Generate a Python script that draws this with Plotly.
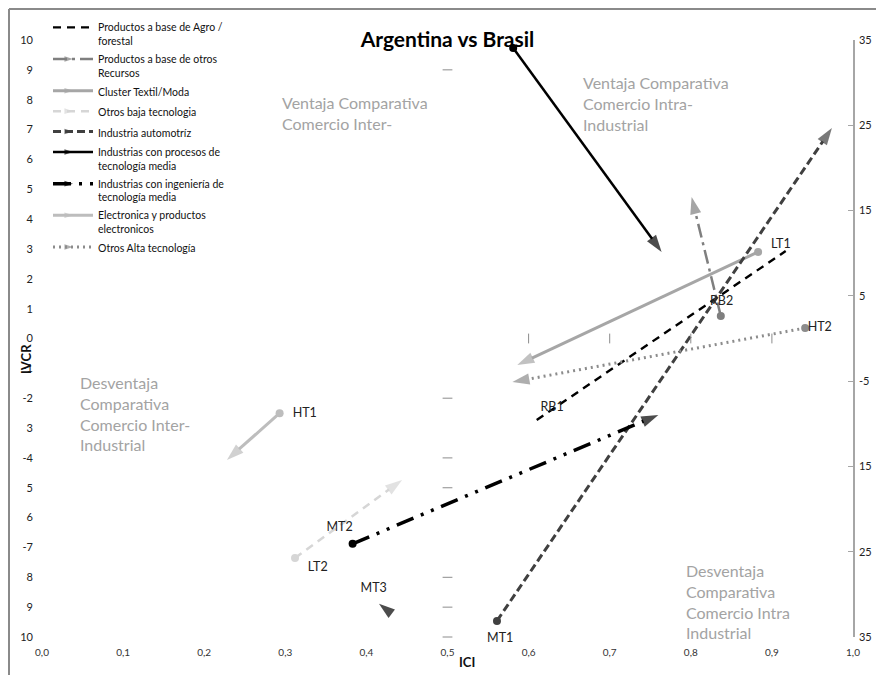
import plotly.graph_objects as go

# Sector arrows: start (ICI, IVCR) -> end (ICI, IVCR)
sectores = [
    "Productos a base de Agro /<br>forestal",
    "Productos a base de otros<br>Recursos",
    "Cluster Textil/Moda",
    "Otros baja tecnologia",
    "Industria automotríz",
    "Industrias con procesos de<br>tecnología media",
    "Industrias con ingeniería de<br>tecnología media",
    "Electronica y productos<br>electronicos",
    "Otros Alta tecnología",
]
ici_ini = [0.610, 0.837, 0.883, 0.312, 0.561, 0.581, 0.383, 0.293, 0.941]
ivcr_ini = [-2.73, 0.75, 2.90, -7.35, -9.46, 9.73, -6.88, -2.50, 0.35]
ici_fin = [0.917, 0.801, 0.586, 0.444, 0.974, 0.764, 0.760, 0.228, 0.580]
ivcr_fin = [2.93, 4.74, -0.89, -4.74, 7.05, 2.90, -2.56, -4.07, -1.46]

# isolated arrow head next to MT3
mt3_x = [0.435, 0.4155]
mt3_y = [-9.30, -8.89]

etiquetas = ["LT1", "RB2", "HT2", "RB1", "HT1", "MT2", "LT2", "MT3", "MT1"]
etiqueta_x = [0.911, 0.838, 0.959, 0.629, 0.324, 0.367, 0.340, 0.409, 0.565]
etiqueta_y = [3.13, 1.22, 0.35, -2.33, -2.53, -6.35, -7.69, -8.39, -9.85]
etiqueta_pos = ["middle center"] * 8 + ["bottom center"]

x_ticks = [i / 10 for i in range(11)]
x_ticktext = ["0,0", "0,1", "0,2", "0,3", "0,4", "0,5", "0,6", "0,7", "0,8", "0,9", "1,0"]
y_ticks = list(range(10, -11, -1))
y_ticktext = ["10", "9", "8", "7", "6", "5", "4", "3", "2", "1", "0",
              "-1", "-2", "3", "-4", "5", "6", "-7", "8", "9", "10"]
y2_ticks = [35, 25, 15, 5, -5, -15, -25, -35]
y2_ticktext = ["35", "25", "15", "5", "-5", "15", "25", "35"]

# tick marks of the (hidden) centre axes
eje_v_y = [9, -2, -4, -5, -8, -9, -10]
eje_h_x = [0.6, 0.7, 0.8, 0.9]

cuadrantes = [
    "Ventaja Comparativa<br>Comercio Inter-",
    "Ventaja Comparativa<br>Comercio Intra-<br>Industrial",
    "Desventaja<br>Comparativa<br>Comercio Inter-<br>Industrial",
    "Desventaja<br>Comparativa<br>Comercio Intra<br>Industrial",
]
cuadrante_x = [0.294, 0.665, 0.044, 0.791]
cuadrante_y = [8.30, 8.97, -1.08, -7.38]

colores = ["#000000", "#7f7f7f", "#a6a6a6", "#d6d6d6", "#404040",
           "#000000", "#000000", "#bdbdbd", "#8c8c8c"]
trazos = ["8px,6px", "14px,5px,3px,5px", "solid", "8px,6px", "8px,4px",
          "solid", "18px,8px,3px,8px,3px,8px", "solid", "2px,4px"]
anchos = [2.4, 2.5, 3, 2.5, 3, 2.5, 3.5, 3, 3]
flecha = [False, True, True, True, True, True, True, True, True]

FONT = "Lato, Open Sans, sans-serif"
W, H = 876, 667  # page body keeps an 8px margin

fig = go.Figure()

for i, nombre in enumerate(sectores):
    fig.add_scatter(
        x=[ici_ini[i], ici_fin[i]], y=[ivcr_ini[i], ivcr_fin[i]],
        mode="lines+markers" if flecha[i] else "lines", name=nombre,
        legendgroup=str(i), cliponaxis=False,
        line={"color": colores[i], "width": anchos[i], "dash": trazos[i]},
        marker={"symbol": "arrow", "size": [0, 18], "color": colores[i],
                "angleref": "previous", "line": {"width": 0}},
    )
    if flecha[i]:
        fig.add_scatter(
            x=[ici_ini[i]], y=[ivcr_ini[i]], mode="markers", legendgroup=str(i),
            showlegend=False, cliponaxis=False,
            marker={"symbol": "circle", "size": 8, "color": colores[i]},
        )

fig.add_scatter(
    x=mt3_x, y=mt3_y, mode="markers", showlegend=False,
    marker={"symbol": "arrow", "size": [0, 17], "color": "#000000",
            "angleref": "previous", "line": {"width": 0}},
)

fig.add_scatter(
    x=etiqueta_x, y=etiqueta_y, mode="text", text=etiquetas, textposition=etiqueta_pos,
    showlegend=False, cliponaxis=False,
    textfont={"family": FONT, "size": 12.5, "color": "#222222"},
)

fig.add_scatter(
    x=[0.5] * len(eje_v_y), y=eje_v_y, mode="markers", showlegend=False, cliponaxis=False,
    marker={"symbol": "line-ew", "size": 7, "line": {"color": "#8c8c8c", "width": 1}},
)
fig.add_scatter(
    x=eje_h_x, y=[0] * len(eje_h_x), yaxis="y2", mode="markers", showlegend=False,
    marker={"symbol": "line-ns", "size": 7, "line": {"color": "#8c8c8c", "width": 1}},
)

for texto, cx, cy in zip(cuadrantes, cuadrante_x, cuadrante_y):
    fig.add_annotation(
        x=cx, y=cy, text=texto, showarrow=False, xanchor="left", yanchor="top",
        align="left", font={"family": FONT, "size": 16, "color": "#a3a3a3"},
    )

fig.add_annotation(
    x=-0.019, y=-0.7, xref="paper", yref="y", text="<b>IVCR</b>", textangle=-90,
    xanchor="center", yanchor="middle",
    showarrow=False, font={"family": FONT, "size": 13, "color": "#111111"},
)
fig.add_annotation(
    x=0.524, y=-0.042, xref="paper", yref="paper", text="<b>ICI</b>", showarrow=False,
    xanchor="center", yanchor="middle",
    font={"family": FONT, "size": 13, "color": "#111111"},
)

# outer chart border (left and top)
fig.add_shape(type="line", xref="paper", yref="paper", x0=-0.0407, x1=-0.0407,
              y0=-0.07, y1=1.052, line={"color": "#8a8a8a", "width": 2})
fig.add_shape(type="line", xref="paper", yref="paper", x0=-0.0407, x1=1.05,
              y0=1.052, y1=1.052, line={"color": "#8a8a8a", "width": 2})

fig.update_layout(
    width=W, height=H,
    margin={"l": 34, "r": 31, "t": 32, "b": 38, "autoexpand": False},
    plot_bgcolor="white", paper_bgcolor="white",
    font={"family": FONT, "color": "#222222"},
    title={"text": "<b>Argentina vs Brasil</b>", "x": 0.5, "xref": "paper", "xanchor": "center",
           "y": 1 - 32 / H, "yanchor": "middle",
           "font": {"family": FONT, "size": 21, "color": "#000000"}},
    showlegend=True,
    legend={"x": 40 / W, "y": 1 - 6 / H, "xref": "container", "yref": "container",
            "xanchor": "left", "yanchor": "top",
            "bgcolor": "rgba(0,0,0,0)", "tracegroupgap": 1.4, "valign": "top",
            "itemwidth": 40, "font": {"family": FONT, "size": 10.5, "color": "#111111"}},
    xaxis={"range": [0, 1], "tickvals": x_ticks, "ticktext": x_ticktext, "automargin": False,
           "showgrid": False, "zeroline": False, "showline": False, "ticks": "",
           "ticklabelstandoff": 8, "tickfont": {"size": 10, "color": "#333333"}},
    yaxis={"range": [-10, 10], "tickvals": y_ticks, "ticktext": y_ticktext, "automargin": False,
           "showgrid": False, "zeroline": False, "showline": False, "ticks": "",
           "ticklabelstandoff": 8, "tickfont": {"size": 11, "color": "#222222"}},
    yaxis2={"range": [-35, 35], "overlaying": "y", "side": "right", "automargin": False,
            "tickvals": y2_ticks, "ticktext": y2_ticktext,
            "showgrid": False, "zeroline": False, "showline": True,
            "linecolor": "#a6a6a6", "linewidth": 1.5,
            "ticks": "inside", "ticklen": 5, "tickcolor": "#a6a6a6",
            "ticklabelstandoff": 2, "tickfont": {"size": 11, "color": "#222222"}},
)

fig.write_html("out.html")
